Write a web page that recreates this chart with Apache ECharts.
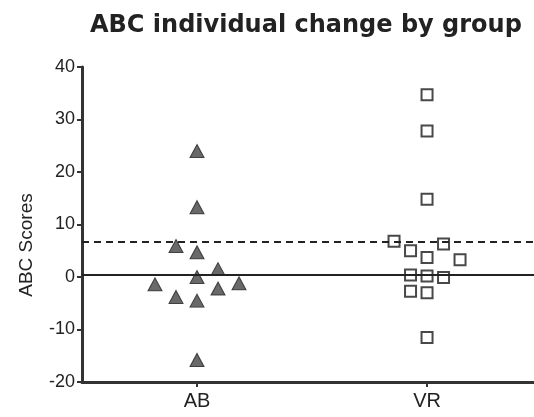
<!DOCTYPE html>
<html>
<head>
<meta charset="utf-8">
<script src="https://cdn.jsdelivr.net/npm/echarts@6/dist/echarts.min.js"></script>
<style>
  html, body { margin: 0; padding: 0; background: #fff; }
  #chart { width: 534px; height: 417px; }
</style>
</head>
<body>
<div id="chart"></div>
<script>
const groups = ["AB", "VR"];

// scores, with the column slot each marker sits in
const abScores = [24, 13.3, 5.9, 4.7, 1.5, 0, -1.4, -1.2, -2.2, -3.8, -4.5, -15.8];
const abSlots  = [0, 0, -1, 0, 1, 0, -2, 2, 1, -1, 0, 0];
const vrScores = [34.7, 27.8, 14.8, 6.8, 6.3, 5.0, 3.7, 3.3, 0.4, 0.2, -0.1, -2.7, -3.0, -11.5];
const vrSlots  = [0, 0, 0, -2, 1, -1, 0, 2, -1, 0, 1, -1, 0, 0];

const solidLine = 0.5;
const dashedLine = 6.8;
const yTicks = [-20, -10, 0, 10, 20, 30, 40];

const chart = echarts.init(document.getElementById("chart"));

const ink = "#222";

// group i sits at x = i + 1 on the horizontal axis
function points(groupIdx, scores, slots, gap) {
  return scores.map((v, i) => ({
    value: [groupIdx + 1, v],
    symbolOffset: [slots[i] * gap, 0]
  }));
}

chart.setOption({
  backgroundColor: "#fff",
  animation: false,
  title: {
    text: "ABC individual change by group",
    left: 85,
    top: 9,
    textStyle: { fontFamily: "DejaVu Sans", fontWeight: "bold", fontSize: 24, color: ink }
  },
  grid: { left: 82, right: 0, top: 67, bottom: 35 },
  xAxis: {
    type: "value",
    min: 0.5,
    max: 2.465,
    axisLine: { onZero: false, lineStyle: { color: "#333", width: 3 } },
    axisTick: { customValues: [1, 2], length: 5, lineStyle: { color: "#333", width: 2 } },
    axisLabel: {
      customValues: [1, 2],
      formatter: v => groups[Math.round(v) - 1],
      fontFamily: "Liberation Sans", fontSize: 20, color: ink, margin: 9
    },
    splitLine: { show: false }
  },
  yAxis: {
    type: "value",
    min: yTicks[0],
    max: yTicks[yTicks.length - 1],
    interval: 10,
    axisLine: { show: true, onZero: false, lineStyle: { color: "#333", width: 3 } },
    axisTick: { show: true, length: 5, lineStyle: { color: "#333", width: 2 } },
    axisLabel: { fontFamily: "Liberation Sans", fontSize: 18, color: ink, margin: 7 },
    splitLine: { show: false }
  },
  graphic: [{
    type: "text",
    x: 27,
    y: 245,
    rotation: Math.PI / 2,
    style: {
      text: "ABC Scores",
      fontFamily: "Liberation Sans",
      fontSize: 19,
      fill: ink,
      textAlign: "center",
      textVerticalAlign: "middle"
    }
  }],
  series: [
    {
      name: "AB",
      type: "scatter",
      symbol: "triangle",
      symbolSize: [14, 13],
      itemStyle: { color: "#444", borderColor: "#222", borderWidth: 1 },
      data: points(0, abScores, abSlots, 21),
      markLine: {
        silent: true,
        symbol: "none",
        label: { show: false },
        lineStyle: { color: "#222", width: 2, type: "solid" },
        data: [{ yAxis: solidLine }]
      },
      z: 3
    },
    {
      name: "VR",
      type: "scatter",
      symbol: "rect",
      symbolSize: 11,
      itemStyle: { color: "#fff", borderColor: "#1a1a1a", borderWidth: 2 },
      data: points(1, vrScores, vrSlots, 16.5),
      markLine: {
        silent: true,
        symbol: "none",
        label: { show: false },
        lineStyle: { color: "#222", width: 2, type: [7, 5] },
        data: [{ yAxis: dashedLine }]
      },
      z: 3
    }
  ]
});
</script>
</body>
</html>
